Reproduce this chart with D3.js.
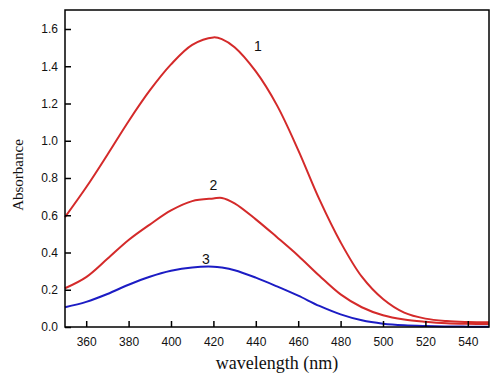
<!DOCTYPE html>
<html><head><meta charset="utf-8">
<script src="https://cdn.jsdelivr.net/npm/d3@7"></script>
<style>body{margin:0;background:#fff}svg{display:block}</style>
</head><body>
<svg id="c" width="502" height="383"></svg>
<script>
const wavelengths = [350,360,370,380,390,400,410,420,424,430,440,450,460,470,480,490,500,510,520,530,540,550];
const series1 = [0.59,0.75,0.925,1.105,1.27,1.41,1.515,1.555,1.546,1.502,1.372,1.19,0.95,0.685,0.455,0.27,0.15,0.077,0.045,0.032,0.027,0.025];
const series2 = [0.208,0.268,0.366,0.467,0.55,0.626,0.676,0.69,0.693,0.664,0.578,0.482,0.383,0.275,0.175,0.106,0.063,0.04,0.028,0.02,0.017,0.016];
const series3 = [0.106,0.135,0.177,0.227,0.27,0.302,0.32,0.324,0.319,0.305,0.265,0.218,0.168,0.113,0.068,0.036,0.018,0.009,0.005,0.003,0.002,0.002];
const seriesNames = ["1","2","3"];
const seriesColors = ["#d42a2a","#d42a2a","#1c1cc4"];
const labelAt = [[441,1.48],[420,0.735],[416.5,0.338]];
const xTicks = [360,380,400,420,440,460,480,500,520,540];
const yTicks = [0,0.2,0.4,0.6,0.8,1.0,1.2,1.4,1.6];

const svg = d3.select("#c");
const L=65, R=489, T=10, B=327;
const x = d3.scaleLinear().domain([350,550]).range([L,R]);
const y = d3.scaleLinear().domain([0,1.702]).range([B,T]);

const all=[series1,series2,series3];
const line = d3.line().x((d,i)=>x(wavelengths[i])).y(d=>y(d)).curve(d3.curveCatmullRom.alpha(0.5));
all.forEach((s,k)=>{
  svg.append("path").attr("d",line(s)).attr("fill","none")
    .attr("stroke",seriesColors[k]).attr("stroke-width",2);
});

// axes
const gx = svg.append("g").attr("transform",`translate(0,${B})`)
  .call(d3.axisBottom(x).tickValues(xTicks).tickSizeInner(-6).tickSizeOuter(0).tickPadding(10).tickFormat(d3.format("d")));
const gy = svg.append("g").attr("transform",`translate(${L},0)`)
  .call(d3.axisLeft(y).tickValues(yTicks).tickSizeInner(-6).tickSizeOuter(0).tickPadding(7).tickFormat(d3.format(".1f")));
[gx,gy].forEach(g=>{
  g.select(".domain").remove();
  g.selectAll(".tick line").attr("stroke","#000").attr("stroke-width",1.5);
  g.selectAll(".tick text").attr("font-family","Liberation Sans, Arial, sans-serif").attr("font-size",12).attr("fill","#111");
});
svg.append("rect").attr("x",L).attr("y",T).attr("width",R-L).attr("height",B-T)
  .attr("fill","none").attr("stroke","#000").attr("stroke-width",1.5);

// series labels
seriesNames.forEach((n,k)=>{
  svg.append("text").attr("x",x(labelAt[k][0])).attr("y",y(labelAt[k][1]))
    .attr("text-anchor","middle").attr("font-family","Liberation Sans, Arial, sans-serif")
    .attr("font-size",14).attr("fill","#111").text(n);
});

svg.append("text").attr("x",(L+R)/2).attr("y",369).attr("text-anchor","middle")
  .attr("font-family","Liberation Serif, Times New Roman, serif").attr("font-size",18).attr("fill","#111")
  .text("wavelength (nm)");
svg.append("text").attr("transform","translate(23,175) rotate(-90)").attr("text-anchor","middle")
  .attr("font-family","Liberation Serif, Times New Roman, serif").attr("font-size",15).attr("fill","#111")
  .text("Absorbance");
</script>
</body></html>
